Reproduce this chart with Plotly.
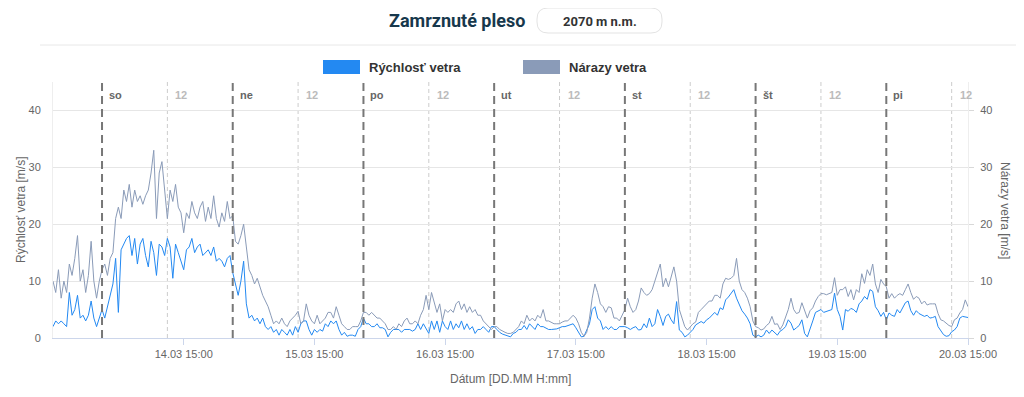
import pandas as pd
import plotly.graph_objects as go

# ---------------- data (30-min samples, 13.03 15:00 -> 20.03 15:00) ----------------
start_time = "2020-03-13 15:00"
end_time = "2020-03-20 15:00"

wind_fri = [2, 3, 2.5, 3, 2.5, 2, 8, 4, 5, 7.5, 3.5, 4, 3, 4, 6.5, 3.5, 2, 3.5, 5]
gust_fri = [10, 8, 12, 7, 10, 8, 13, 11, 14, 18, 10, 12, 8, 11, 17, 10, 7, 10, 12]

wind_sat = [3.5, 5.5, 7, 9.5, 14, 4.5, 15.5, 16.5, 17.5, 18, 14.5, 17.5, 13, 16.5, 17.5, 14.5,
            12.5, 17, 15, 11, 16.5, 16, 14.5, 17.5, 16, 10.5, 16.5, 15, 13.5, 12, 15.5, 16,
            17.5, 15, 16, 16.5, 14.5, 15, 15.5, 14.5, 16, 13.5, 14, 13.5, 12.5, 14, 14.5, 11.5]
gust_sat = [13, 11, 14, 15, 21, 23, 21, 26, 24, 27, 23, 26, 24, 25, 23.5, 25,
            26, 29, 33, 21, 29, 31, 26, 21, 26, 24, 27, 23, 22, 18.5, 22, 21,
            24, 22, 21, 23, 24, 20.5, 23, 21, 25, 21, 19.5, 22, 20.5, 24, 21, 21.5]

wind_sun = [9.5, 7.5, 10, 13.5, 6, 3.5, 4, 3, 3.5, 2.5, 3.5, 2, 1.5, 2, 1, 1.5,
            0.5, 1.5, 1, 0.5, 1.5, 0.5, 2, 1, 2.5, 3, 3, 1.5, 0.5, 1.5, 1, 1.5,
            1.2, 2.5, 2, 3, 2.5, 3, 1.5, 0.5, 1, 0.3, 0.5, 0.5, 0.3, 1.5, 2, 3.5]
gust_sun = [17, 16.5, 18, 20, 16, 12, 11, 9.5, 10.5, 9, 7.5, 6.5, 5.5, 4, 2.5, 3,
            2.5, 3.5, 2.5, 2, 3, 3.5, 4, 4.7, 2.5, 3, 6, 4, 3, 2.5, 4, 2.5,
            3, 3.5, 4.5, 4.5, 3.5, 5.5, 4, 2.5, 2, 1.5, 1.5, 2, 2, 2, 3, 4.5]

wind_mon = [2.5, 2.5, 2, 2, 2.5, 1.8, 1.8, 1.5, 0.2, 1, 1.5, 1.5, 1.5, 1, 1.5, 1.5,
            1.5, 1.2, 1.5, 2.5, 1.5, 2.5, 1.5, 0.8, 3, 1.5, 3, 1, 3, 2, 1.5, 3,
            1.5, 2.5, 1.8, 3, 1.5, 2.5, 1.5, 2, 0.8, 1.5, 1.5, 2, 1.5, 1, 2, 2]
gust_mon = [4.5, 4, 4.5, 4, 3.5, 3.5, 3, 2.5, 1.5, 1.5, 2, 1.5, 2.5, 2, 3, 3.5,
            2.5, 2.5, 3, 2.5, 4, 5, 7.5, 5, 8, 6, 4.5, 6, 3, 5, 4.5, 5,
            4.5, 6, 6.5, 5, 6, 4.5, 5.5, 4.5, 5, 4, 4, 3, 2.5, 2, 1.5, 2]

wind_tue = [1.5, 1, 0.7, 0.5, 0.3, 0.2, 0.8, 1, 1.5, 1.5, 2.2, 1.5, 2.5, 2, 1.5, 2.5,
            2, 2, 1.8, 1.5, 1.5, 1.5, 1.6, 1.8, 2, 2, 2.2, 2.3, 2.5, 1.8, 1, 0.2,
            0.3, 1.5, 2.5, 5, 5.5, 3.5, 3, 1.5, 2, 1.5, 2, 1.5, 1.5, 2, 2, 2]
gust_tue = [2, 1.5, 1.2, 1, 0.8, 0.8, 1, 1.5, 2, 3, 2.5, 4, 3, 3.5, 3, 4,
            3.5, 5, 3, 3, 2.8, 2.5, 2.5, 2.5, 2.8, 3, 3, 3.5, 4, 3.5, 2.5, 1,
            0.3, 1, 3.5, 7, 9.5, 8, 6, 5.5, 4.5, 5.5, 5.3, 3.5, 3.5, 3, 4, 5]

wind_wed = [1.8, 1.5, 1.8, 2, 1.4, 1.5, 2.5, 1.8, 3.5, 2, 2.5, 5, 3.8, 2.2, 3.8, 4.2,
            3.2, 2.5, 6.4, 1.4, 1, 0.2, 0.5, 1, 1.5, 2.3, 2.6, 2.9, 2.6, 3.2, 3.5, 4,
            4.5, 4, 5.3, 5, 6.7, 7.2, 7.9, 8.5, 7, 6, 4.8, 4.2, 3.5, 2.5, 0.5, 0.2]
gust_wed = [7, 5.5, 4.5, 5, 6.5, 8.8, 8, 7.5, 7.8, 8.5, 10, 11.5, 13, 9, 10.5, 9,
            11, 12.5, 10, 5, 3.5, 2, 1.4, 2, 2.5, 2.8, 4.5, 5, 5.5, 6, 6.5, 6.5,
            7.5, 7.5, 7, 9.5, 10.5, 10.3, 10.5, 11, 14, 10, 8.5, 8, 7, 5.5, 3, 2]

wind_thu = [0.5, 0.2, 0.5, 1.4, 0.8, 1.4, 1, 0.5, 1.2, 1.5, 2, 3.2, 2.6, 1.4, 1.8, 2.2,
            3.2, 0.8, 0.2, 1.5, 3, 4.5, 4.7, 5, 4.5, 4.7, 4.8, 5, 7.9, 5, 3.8, 1.4,
            5, 4.7, 5.2, 5, 4.5, 6, 6.5, 7.3, 6.8, 8.5, 8.2, 5.5, 4.8, 3.8, 4.5, 3.2]
gust_thu = [1.8, 1.4, 1.6, 2.2, 2.6, 3.8, 2.4, 2.5, 1.5, 2.3, 3.5, 5, 7, 5, 4.3, 4.5,
            6.2, 5, 3.5, 4.8, 5.3, 6.5, 7.3, 7.8, 7.8, 7.6, 7.8, 8, 10.6, 7.5, 8.5, 8.5,
            9, 7.3, 8.5, 6.7, 8.5, 8, 11.3, 9.6, 12, 11, 13, 9.5, 8, 10.3, 9.5, 9]

wind_fri2 = [4.4, 4, 3.8, 5, 4.4, 5.3, 6.2, 6.5, 4.8, 4, 4.8, 4.3, 4, 3.8, 4,
             3.5, 3.6, 3.8, 2, 1.2, 0.6, 0.3, 0.4, 1.1, 1.4, 2, 3.5, 3.8, 3.7, 3.6]
gust_fri2 = [7, 7.8, 7, 7.5, 7.8, 7.5, 8.5, 9.5, 8, 6.8, 7.3, 7, 6, 6.5, 5.8,
             6, 6, 6, 4.3, 3.2, 3, 2.6, 2.2, 2, 3.2, 3.5, 4.4, 5, 6.7, 5.5]

day_labels = ["so", "ne", "po", "ut", "st", "št", "pi"]
tick_labels = ["14.03 15:00", "15.03 15:00", "16.03 15:00", "17.03 15:00",
               "18.03 15:00", "19.03 15:00", "20.03 15:00"]
y_ticks = [0, 10, 20, 30, 40]

wind = (wind_fri + wind_sat + wind_sun + wind_mon + wind_tue + wind_wed
        + wind_thu + wind_fri2)
gust = (gust_fri + gust_sat + gust_sun + gust_mon + gust_tue + gust_wed
        + gust_thu + gust_fri2)
times = pd.date_range(start_time, end_time, freq="30min")
n = min(len(times), len(wind), len(gust))
times, wind, gust = times[:n], wind[:n], gust[:n]

days = pd.date_range("2020-03-14", periods=len(day_labels), freq="D")
noons = days + pd.Timedelta(hours=12)
tick_vals = pd.date_range("2020-03-14 15:00", periods=len(tick_labels), freq="D")

# ---------------- layout helpers (page pixels; page body has an 8px margin) ----------------
PAGE_W, PAGE_H, BODY = 1024, 397, 8
W, H = PAGE_W - 2 * BODY, PAGE_H - 2 * BODY
PL, PR, PT, PB = 53, 968, 82, 338          # plot area in page pixels
L, T = PL - BODY, PT - BODY
R, B = W - (PR - BODY), H - (PB - BODY)
PW, PH = PR - PL, PB - PT


def fx(p):
    return (p - PL) / PW


def fy(p):
    return (PB - p) / PH


FONT = "Liberation Sans, Arial, sans-serif"
BLUE = "#2389f2"
GRAYBLUE = "#8a9bb8"

fig = go.Figure()
fig.add_trace(go.Scatter(x=times, y=gust, name="Nárazy vetra", mode="lines",
                         line=dict(color=GRAYBLUE, width=1), yaxis="y2",
                         showlegend=False))
fig.add_trace(go.Scatter(x=times, y=wind, name="Rýchlosť vetra", mode="lines",
                         line=dict(color=BLUE, width=1), yaxis="y",
                         showlegend=False))

shapes = []
annotations = []

# day separator lines and labels
for d, lab in zip(days, day_labels):
    shapes.append(dict(type="line", xref="x", yref="paper", x0=d, x1=d, y0=0, y1=1,
                       line=dict(color="#777777", width=2, dash="8px,5px"), layer="above"))
    annotations.append(dict(x=d, y=fy(95), xref="x", yref="paper", text=f"<b>{lab}</b>",
                            showarrow=False, xanchor="left", yanchor="middle", xshift=5,
                            font=dict(family=FONT, size=11, color="#666666")))
for d in noons:
    shapes.append(dict(type="line", xref="x", yref="paper", x0=d, x1=d, y0=0, y1=1,
                       line=dict(color="#cccccc", width=1, dash="4px,3px"), layer="below"))
    annotations.append(dict(x=d, y=fy(95), xref="x", yref="paper", text="<b>12</b>",
                            showarrow=False, xanchor="left", yanchor="middle", xshift=6,
                            font=dict(family=FONT, size=11, color="#bbbbbb")))

# header: title, pill, separator
annotations.append(dict(x=fx(527), y=fy(20), xref="paper", yref="paper",
                        text="<b>Zamrznuté pleso</b>", showarrow=False,
                        xanchor="right", yanchor="middle",
                        font=dict(family="Roboto, " + FONT, size=18, color="#17384c")))
x0, x1, y0, y1, r = 537, 662, 8, 33, 11
path = (f"M {fx(x0 + r)} {fy(y0)} L {fx(x1 - r)} {fy(y0)} Q {fx(x1)} {fy(y0)} {fx(x1)} {fy(y0 + r)} "
        f"L {fx(x1)} {fy(y1 - r)} Q {fx(x1)} {fy(y1)} {fx(x1 - r)} {fy(y1)} "
        f"L {fx(x0 + r)} {fy(y1)} Q {fx(x0)} {fy(y1)} {fx(x0)} {fy(y1 - r)} "
        f"L {fx(x0)} {fy(y0 + r)} Q {fx(x0)} {fy(y0)} {fx(x0 + r)} {fy(y0)} Z")
shapes.append(dict(type="path", xref="paper", yref="paper", path=path,
                   line=dict(color="#e3e3e3", width=1), fillcolor="white"))
annotations.append(dict(x=fx((x0 + x1) / 2), y=fy(21), xref="paper", yref="paper",
                        text="<b>2070 m n.m.</b>", showarrow=False,
                        xanchor="center", yanchor="middle",
                        font=dict(family="Roboto, " + FONT, size=13, color="#333333")))
shapes.append(dict(type="line", xref="paper", yref="paper", x0=fx(40), x1=fx(1016),
                   y0=fy(45), y1=fy(45), line=dict(color="#e8e8e8", width=1)))

# legend (manual, rectangle symbols)
for rx, color, text in [(323, BLUE, "Rýchlosť vetra"), (523, GRAYBLUE, "Nárazy vetra")]:
    shapes.append(dict(type="rect", xref="paper", yref="paper", x0=fx(rx), x1=fx(rx + 37),
                       y0=fy(74), y1=fy(60), fillcolor=color, line=dict(width=0)))
    annotations.append(dict(x=fx(rx + 44), y=fy(67), xref="paper", yref="paper",
                            text=f"<b>{text}</b>", showarrow=False, xanchor="left",
                            yanchor="middle", font=dict(family=FONT, size=13, color="#333333")))

# axis titles
annotations.append(dict(x=fx(21), y=fy(210), xref="paper", yref="paper",
                        text="Rýchlosť vetra [m/s]", textangle=-90, showarrow=False,
                        xanchor="center", yanchor="middle",
                        font=dict(family=FONT, size=12, color="#666666")))
annotations.append(dict(x=fx(1005), y=fy(210), xref="paper", yref="paper",
                        text="Nárazy vetra [m/s]", textangle=90, showarrow=False,
                        xanchor="center", yanchor="middle",
                        font=dict(family=FONT, size=12, color="#666666")))
annotations.append(dict(x=fx(510), y=fy(379), xref="paper", yref="paper",
                        text="Dátum [DD.MM H:mm]", showarrow=False,
                        xanchor="center", yanchor="middle",
                        font=dict(family=FONT, size=12, color="#666666")))

fig.update_layout(
    width=W, height=H,
    margin=dict(l=L, r=R, t=T, b=B, pad=0),
    plot_bgcolor="white", paper_bgcolor="white",
    hovermode=False,
    showlegend=False,
    font=dict(family=FONT, size=11, color="#666666"),
    xaxis=dict(type="date", range=[times[0], times[-1]], tickvals=tick_vals,
               ticktext=tick_labels, ticks="outside", ticklen=6, tickcolor="#ccd6eb",
               showgrid=False, zeroline=False, showline=True, linecolor="#ccd6eb",
               tickfont=dict(family=FONT, size=11, color="#666666")),
    yaxis=dict(range=[0, 45], tickvals=y_ticks, showgrid=True, gridcolor="#e6e6e6",
               zeroline=False, showline=True, linecolor="#eeeeee", ticks="",
               ticklabelstandoff=9, tickfont=dict(family=FONT, size=11, color="#666666")),
    yaxis2=dict(range=[0, 45], tickvals=y_ticks, overlaying="y", side="right",
                showgrid=False, zeroline=False, showline=True, linecolor="#eeeeee",
                ticks="outside", ticklen=5, tickcolor="#d8d8d8", ticklabelstandoff=4,
                tickfont=dict(family=FONT, size=11, color="#666666")),
    shapes=shapes,
    annotations=annotations,
)

fig.write_html("out.html", config={"displayModeBar": False})
